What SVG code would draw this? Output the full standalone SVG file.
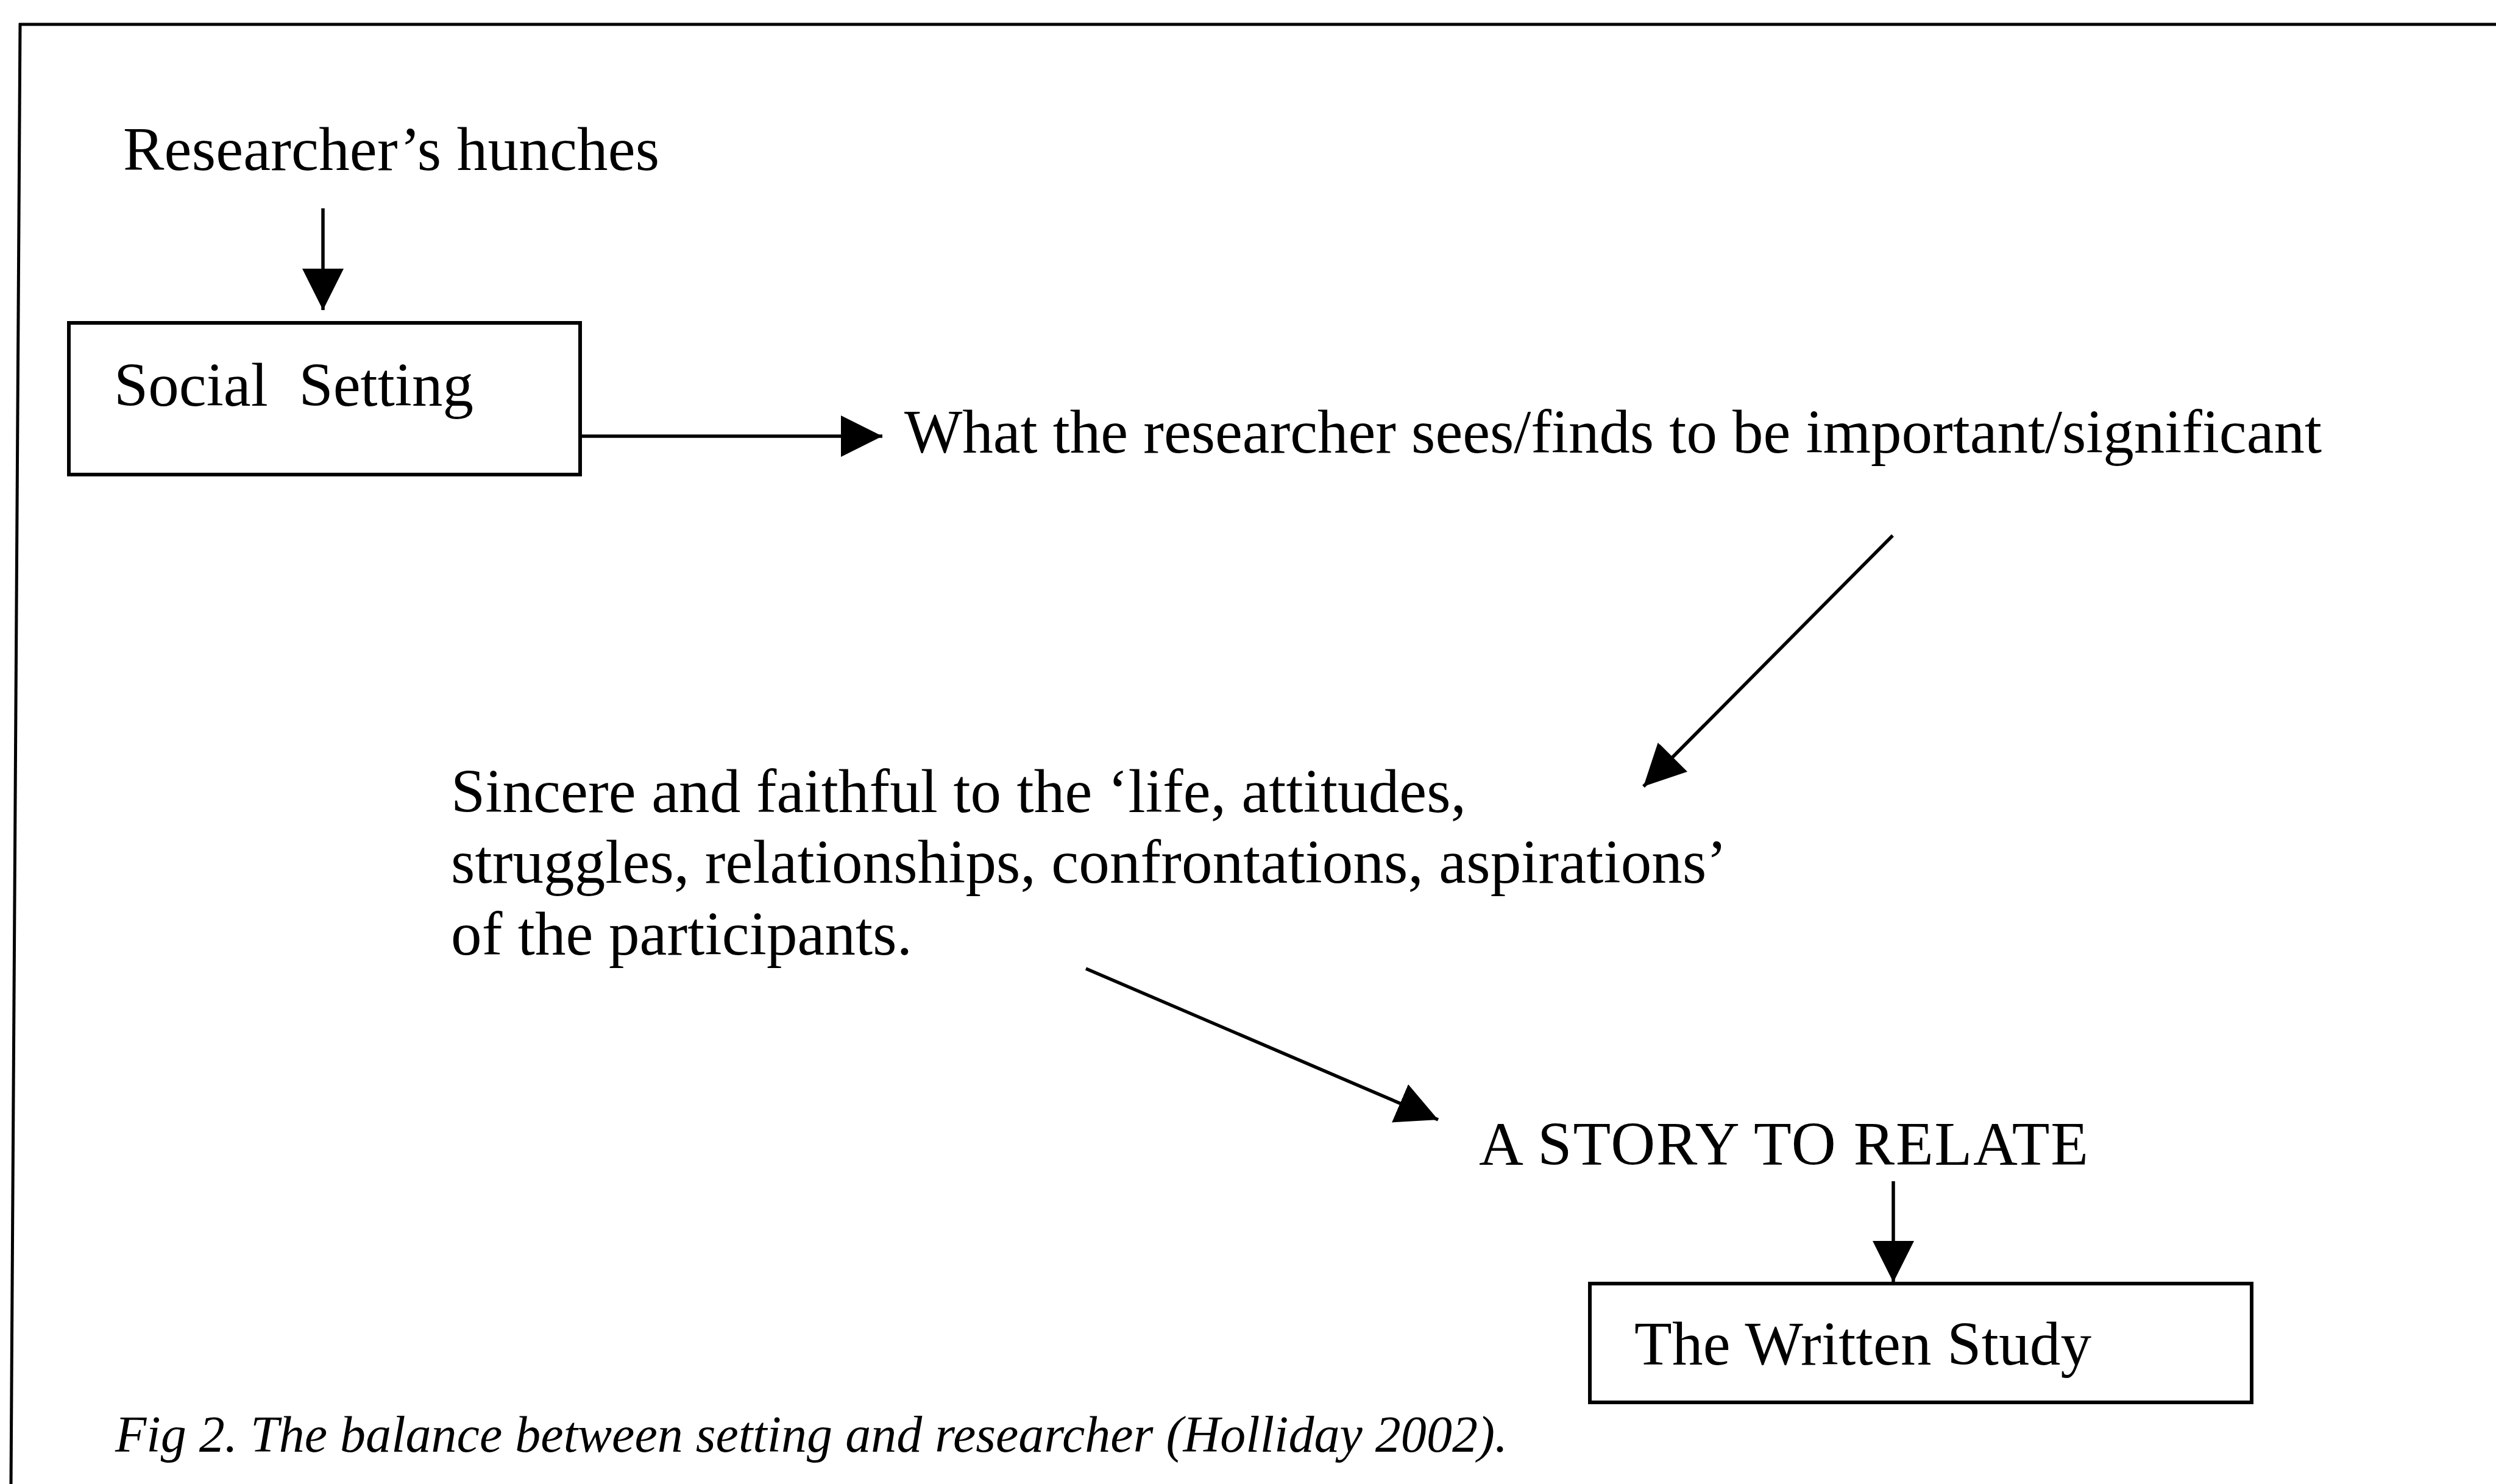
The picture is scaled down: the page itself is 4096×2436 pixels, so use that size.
<svg xmlns="http://www.w3.org/2000/svg" width="4096" height="2436" viewBox="0 0 4096 2436">
  <style>
    .txt { font-family: "Liberation Serif", "Times New Roman", serif; font-size: 101px; fill: #000; }
    .cap { font-family: "Liberation Serif", "Times New Roman", serif; font-size: 84px; font-style: italic; fill: #000; }
    .box { fill: none; stroke: #000; stroke-width: 6; }
    .frame { fill: none; stroke: #000; stroke-width: 5; }
    .link { fill: none; stroke: #000; stroke-width: 5.5; }
  </style>
  <defs>
    <marker id="head" markerUnits="userSpaceOnUse" markerWidth="70" markerHeight="70" refX="68" refY="34" orient="auto" viewBox="0 0 70 70">
      <path d="M0,0 L68,34 L0,68 Z" fill="#000"/>
    </marker>
  </defs>

  <rect width="4096" height="2436" fill="#fff"/>

  <!-- open frame: top and left edges only -->
  <g id="frame">
    <line class="frame" x1="31" y1="40" x2="4096" y2="40"/>
    <line class="frame" x1="33" y1="38" x2="18" y2="2436"/>
  </g>

  <g id="hunches">
    <text class="txt" x="202" y="279" textLength="880">Researcher’s hunches</text>
  </g>

  <g id="social-setting">
    <rect class="box" x="113" y="530" width="839" height="249"/>
    <text class="txt" x="187" y="666" xml:space="preserve" textLength="590">Social  Setting</text>
  </g>

  <g id="what-found">
    <text class="txt" x="1484" y="743" textLength="2326">What the researcher sees/finds to be important/significant</text>
  </g>

  <g id="sincere">
    <text class="txt" x="740" y="1333" textLength="1666">Sincere and faithful to the ‘life, attitudes,</text>
    <text class="txt" x="740" y="1449" textLength="2094">struggles, relationships, confrontations, aspirations’</text>
    <text class="txt" x="740" y="1567" textLength="757">of the participants.</text>
  </g>

  <g id="story">
    <text class="txt" x="2427" y="1912" textLength="1000">A STORY TO RELATE</text>
  </g>

  <g id="written-study">
    <rect class="box" x="2609" y="2107" width="1086" height="195"/>
    <text class="txt" x="2682" y="2240" textLength="750">The Written Study</text>
  </g>

  <g id="caption">
    <text class="cap" x="189" y="2383" textLength="2285">Fig 2. The balance between setting and researcher (Holliday 2002).</text>
  </g>

  <g id="connectors">
    <line class="link" x1="530" y1="342" x2="530" y2="509" marker-end="url(#head)"/>
    <line class="link" x1="952" y1="716" x2="1448" y2="716" marker-end="url(#head)"/>
    <line class="link" x1="3106" y1="879" x2="2697" y2="1291" marker-end="url(#head)"/>
    <line class="link" x1="1782" y1="1590" x2="2360" y2="1838" marker-end="url(#head)"/>
    <line class="link" x1="3107" y1="1939" x2="3107" y2="2105" marker-end="url(#head)"/>
  </g>
</svg>
